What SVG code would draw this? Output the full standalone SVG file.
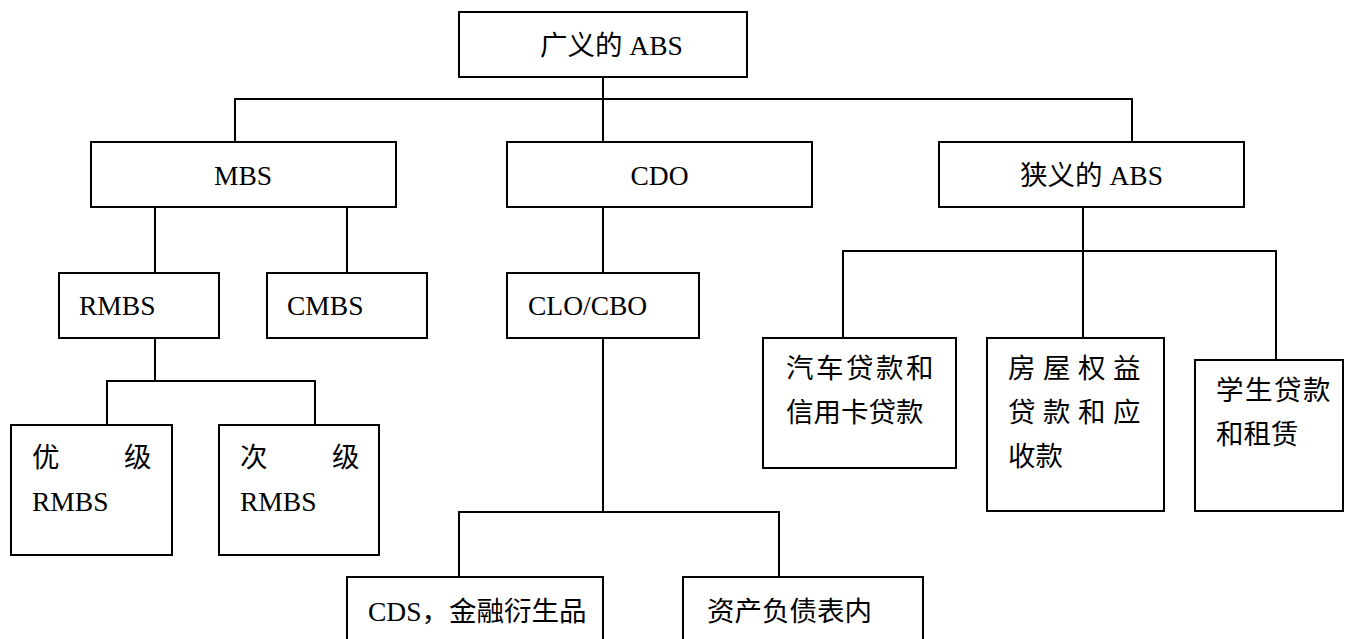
<svg xmlns="http://www.w3.org/2000/svg" width="1345" height="639" viewBox="0 0 1345 639">
<style>
.box{fill:#fff;stroke:#000;stroke-width:2}
.ln{fill:none;stroke:#000;stroke-width:2}
text{font-family:"Liberation Serif","Noto Sans CJK SC",serif;font-size:27.5px;fill:#000}
.c{text-anchor:middle}
</style>
<rect width="1345" height="639" fill="#fff"/>
<g id="connectors">
<path class="ln" d="M603 77V142M235 142V99H1132V142"/>
<path class="ln" d="M155 207V273M347 207V273"/>
<path class="ln" d="M155 338V381M107 425V381H315V425"/>
<path class="ln" d="M603 207V273"/>
<path class="ln" d="M603 338V512M459 577V512H779V577"/>
<path class="ln" d="M1083 207V251M843 338V251H1276V360M1083 251V338"/>
</g>
<g id="n-top"><rect class="box" x="459" y="12" width="288" height="65"/><text x="540" y="55">广义的 ABS</text></g>
<g id="n-mbs"><rect class="box" x="91" y="142" width="305" height="65"/><text class="c" x="243" y="185">MBS</text></g>
<g id="n-cdo"><rect class="box" x="507" y="142" width="305" height="65"/><text class="c" x="659.5" y="185">CDO</text></g>
<g id="n-nabs"><rect class="box" x="939" y="142" width="305" height="65"/><text class="c" x="1091.5" y="185">狭义的 ABS</text></g>
<g id="n-rmbs"><rect class="box" x="59" y="273" width="160" height="65"/><text x="79" y="315">RMBS</text></g>
<g id="n-cmbs"><rect class="box" x="267" y="273" width="160" height="65"/><text x="287" y="315">CMBS</text></g>
<g id="n-clo"><rect class="box" x="507" y="273" width="192" height="65"/><text x="528" y="315">CLO/CBO</text></g>
<g id="n-prime"><rect class="box" x="11" y="425" width="161" height="130"/><text x="32 124" y="467">优级</text><text x="32" y="511">RMBS</text></g>
<g id="n-sub"><rect class="box" x="219" y="425" width="160" height="130"/><text x="240 332" y="467">次级</text><text x="240" y="511">RMBS</text></g>
<g id="n-cds"><rect class="box" x="347" y="577" width="256" height="80"/><text x="368" y="621">CDS，金融衍生品</text></g>
<g id="n-bs"><rect class="box" x="683" y="577" width="240" height="80"/><text x="707" y="621">资产负债表内</text></g>
<g id="n-auto"><rect class="box" x="763" y="338" width="193" height="130"/><text x="786 816 846 876 906" y="378">汽车贷款和</text><text x="786" y="422">信用卡贷款</text></g>
<g id="n-home"><rect class="box" x="987" y="338" width="177" height="173"/><text x="1008 1043 1078 1113" y="378">房屋权益</text><text x="1008 1043 1078 1113" y="422">贷款和应</text><text x="1008" y="466">收款</text></g>
<g id="n-student"><rect class="box" x="1195" y="360" width="148" height="151"/><text x="1216 1245 1274 1303" y="400">学生贷款</text><text x="1216" y="444">和租赁</text></g>
</svg>
